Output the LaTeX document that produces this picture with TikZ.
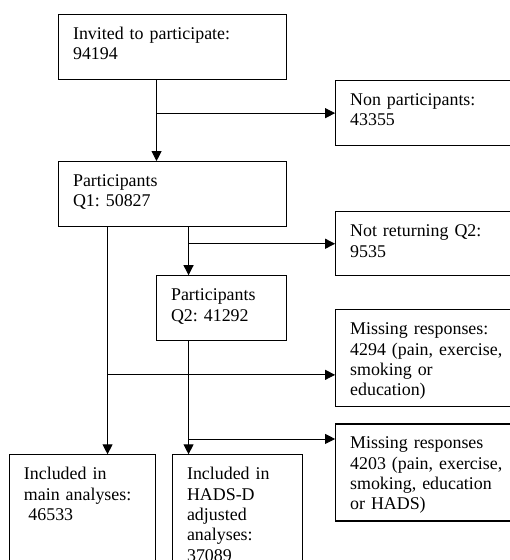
\documentclass[tikz,border=0pt]{standalone}
\usepackage{fontspec}
\setmainfont{Liberation Serif}
\usetikzlibrary{arrows.meta,positioning}
\newcommand\flowfont{\fontsize{17.9pt}{20.3pt}\selectfont\frenchspacing}

\begin{document}
\begin{tikzpicture}[
    box/.style={draw, line width=1.1pt, align=left, inner xsep=14.5pt, inner ysep=0pt,
                text height=25pt, font=\flowfont},
    arrow/.style={-{Triangle[length=10pt, width=10pt]}, line width=0.9pt}
  ]
    \useasboundingbox (0,0) rectangle (510pt,-560pt);
    \clip (0,0) rectangle (510pt,-560pt);
    \node[box, anchor=north west, text width=199pt, text depth=40pt] (invite) at (58pt,-14pt)
      {Invited to participate:\\94194};
    \node[box, right=48pt of invite.south east, anchor=north west, text width=157pt, text depth=40pt] (nonpart)
      {Non participants:\\43355};
    \node[box, below=81pt of invite.south west, anchor=north west, text width=199pt, text depth=40pt] (part1)
      {Participants\\Q1: 50827};
    \node[box, below right=-16pt and 48pt of part1.south east, anchor=north west, text width=157pt, text depth=39pt] (noret)
      {Not returning Q2:\\9535};
    \node[box, below=48pt of part1.south east, anchor=north east, text width=101pt, text depth=40pt] (part2)
      {Participants\\Q2: 41292};
    \node[box, below=33pt of noret.south west, anchor=north west, text width=157pt, text depth=72pt] (miss1)
      {Missing responses:\\4294 (pain, exercise,\\smoking or\\education)};
    \node[box, below=16pt of miss1.south west, anchor=north west, text width=157pt, text depth=72pt] (miss2)
      {Missing responses\\4203 (pain, exercise,\\smoking, education\\or HADS)};
    \node[box, below=113pt of part2.south west, anchor=north east, text width=117pt, text depth=95pt] (inclmain)
      {Included in\\main analyses:\\\hspace*{0.25em}46533};
    \node[box, right=16pt of inclmain.north east, anchor=north west, text width=101pt, text depth=95pt] (inclhads)
      {Included in\\HADS-D\\adjusted\\analyses:\\37089};
    % branch points on the exclusion boxes
    \coordinate (m1) at ([yshift=-16.5pt]miss1.west);
    \coordinate (m2) at ([yshift=33.5pt]miss2.west);
    \draw[arrow] ([xshift=-16pt]invite.south) -- ([xshift=-16pt]invite.south |- part1.north);
    \draw[arrow] ([xshift=-16pt]invite.south |- nonpart.west) -- (nonpart.west);
    \draw[arrow] ([xshift=16pt]part1.south) -- ([xshift=16pt]part1.south |- part2.north);
    \draw[arrow] ([xshift=16pt]part1.south |- noret.west) -- (noret.west);
    \draw[arrow] ([xshift=-65pt]part1.south) -- ([xshift=-65pt]part1.south |- inclmain.north);
    \draw[arrow] ([xshift=-65pt]part1.south |- m1) -- (m1);
    \draw[arrow] ([xshift=-33pt]part2.south) -- ([xshift=-33pt]part2.south |- inclhads.north);
    \draw[arrow] ([xshift=-33pt]part2.south |- m2) -- (m2);
  \end{tikzpicture}
\end{document}
